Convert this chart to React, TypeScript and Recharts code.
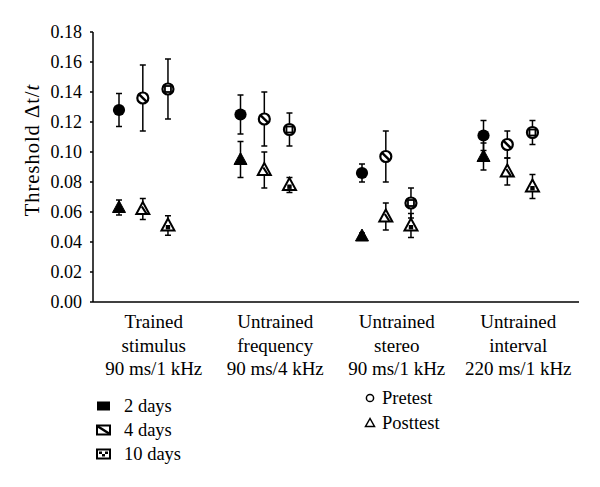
import React from "react";
import { ScatterChart, Scatter, XAxis, YAxis, ErrorBar, Customized } from "recharts";

// category labels (three lines each)
const groupLines = [
  ["Trained", "stimulus", "90 ms/1 kHz"],
  ["Untrained", "frequency", "90 ms/4 kHz"],
  ["Untrained", "stereo", "90 ms/1 kHz"],
  ["Untrained", "interval", "220 ms/1 kHz"],
];
const yTicks = [0, 0.02, 0.04, 0.06, 0.08, 0.1, 0.12, 0.14, 0.16, 0.18];

// pretest means / sd
const pre2 = [0.128, 0.125, 0.086, 0.111];
const pre2Err = [0.011, 0.013, 0.006, 0.01];
const pre4 = [0.136, 0.122, 0.097, 0.105];
const pre4Err = [0.022, 0.018, 0.017, 0.009];
const pre10 = [0.142, 0.115, 0.066, 0.113];
const pre10Err = [0.02, 0.011, 0.01, 0.008];

// posttest means / sd
const post2 = [0.063, 0.095, 0.044, 0.097];
const post2Err = [0.005, 0.012, 0.002, 0.009];
const post4 = [0.062, 0.088, 0.057, 0.087];
const post4Err = [0.007, 0.012, 0.009, 0.009];
const post10 = [0.051, 0.078, 0.051, 0.077];
const post10Err = [0.0065, 0.005, 0.008, 0.008];

// x offset of each training duration inside a group
const dodge = [0.214, 0.41, 0.617];

const FONT = "'Liberation Serif', 'Times New Roman', serif";
const txt = { fontFamily: FONT } as React.CSSProperties;

const toPoints = (vals: number[], errs: number[], d: number) =>
  vals.map((v, i) => ({ x: i + dodge[d], y: v, err: errs[i] }));

// ---- marker shapes ----
const R = 5.5;
function CircleMark(kind: "fill" | "hatch" | "check") {
  return (p: any) => {
    const { cx, cy } = p;
    if (kind === "fill") return <circle cx={cx} cy={cy} r={R + 0.6} fill="#000" />;
    return (
      <g>
        <circle cx={cx} cy={cy} r={R} fill="#fff" stroke="#000" strokeWidth={2.2} />
        {kind === "hatch" ? (
          <line x1={cx - 3.7} y1={cy - 3.7} x2={cx + 3.7} y2={cy + 3.7} stroke="#000" strokeWidth={2.4} />
        ) : (
          <rect x={cx - 3} y={cy - 3} width={6} height={6} fill="#fff" stroke="#000" strokeWidth={1.8} />
        )}
      </g>
    );
  };
}
function TriMark(kind: "fill" | "hatch" | "check") {
  return (p: any) => {
    const { cx, cy } = p;
    const pts = `${cx},${cy - 7} ${cx - 6.5},${cy + 5} ${cx + 6.5},${cy + 5}`;
    if (kind === "fill") return <polygon points={pts} fill="#000" stroke="#000" strokeWidth={1} />;
    return (
      <g>
        <polygon points={pts} fill="#fff" stroke="#000" strokeWidth={2} />
        {kind === "hatch" ? (
          <line x1={cx - 1} y1={cy - 2.5} x2={cx + 3.5} y2={cy + 4.5} stroke="#000" strokeWidth={2.2} />
        ) : (
          <rect x={cx - 2.2} y={cy - 0.5} width={4.4} height={4.4} fill="#000" />
        )}
      </g>
    );
  };
}

const CatTick = (props: any) => {
  const { x, y, payload } = props;
  const lines = groupLines[Math.floor(payload.value)] || [];
  return (
    <text x={x} y={y} textAnchor="middle" style={txt} fontSize={19} fill="#000">
      {lines.map((l, k) => (
        <tspan key={k} x={x} dy={k === 0 ? 26 : 23.5}>
          {l}
        </tspan>
      ))}
    </text>
  );
};

const NumTick = (props: any) => {
  const { x, y, payload } = props;
  return (
    <text x={x} y={y} dy={6} textAnchor="end" style={txt} fontSize={18} fill="#000">
      {Number(payload.value).toFixed(2)}
    </text>
  );
};

const YLabel = () => (
  <text
    x={32}
    y={150}
    transform="rotate(-90, 32, 150)"
    textAnchor="middle"
    dominantBaseline="central"
    style={{ ...txt, letterSpacing: 1 }}
    fontSize={20.5}
    fill="#000"
  >
    Threshold Δt/<tspan fontStyle="italic">t</tspan>
  </text>
);

const LegendBlock = () => {
  const rows = [406, 430, 454];
  const labels = ["2 days", "4 days", "10 days"];
  return (
    <g style={txt} fontSize={18.5} fill="#000">
      {rows.map((cy, i) => {
        const x = 97;
        const y = cy - 4.5;
        return (
          <g key={i}>
            {i === 0 && <rect x={x} y={y} width={13} height={9} fill="#000" />}
            {i === 1 && (
              <g>
                <rect x={x} y={y} width={13} height={9} fill="#fff" stroke="#000" strokeWidth={2} />
                <line x1={x + 1} y1={y + 1} x2={x + 12} y2={y + 8} stroke="#000" strokeWidth={2.5} />
              </g>
            )}
            {i === 2 && (
              <g>
                <rect x={x} y={y} width={13} height={9} fill="#fff" stroke="#000" strokeWidth={2} />
                <rect x={x + 2} y={y + 2} width={3} height={2.5} fill="#000" />
                <rect x={x + 8} y={y + 2} width={3} height={2.5} fill="#000" />
                <rect x={x + 5} y={y + 4.5} width={3} height={2.5} fill="#000" />
              </g>
            )}
            <text x={124} y={cy + 6}>{labels[i]}</text>
          </g>
        );
      })}
      <circle cx={370} cy={398} r={3.6} fill="none" stroke="#000" strokeWidth={1.5} />
      <text x={382} y={404}>Pretest</text>
      <polygon points="370,418.5 365.5,426.5 374.5,426.5" fill="none" stroke="#000" strokeWidth={1.5} />
      <text x={382} y={429}>Posttest</text>
    </g>
  );
};

export default function App() {
  const series = [
    { name: "Pretest 2 days", data: toPoints(pre2, pre2Err, 0), shape: CircleMark("fill") },
    { name: "Pretest 4 days", data: toPoints(pre4, pre4Err, 1), shape: CircleMark("hatch") },
    { name: "Pretest 10 days", data: toPoints(pre10, pre10Err, 2), shape: CircleMark("check") },
    { name: "Posttest 2 days", data: toPoints(post2, post2Err, 0), shape: TriMark("fill") },
    { name: "Posttest 4 days", data: toPoints(post4, post4Err, 1), shape: TriMark("hatch") },
    { name: "Posttest 10 days", data: toPoints(post10, post10Err, 2), shape: TriMark("check") },
  ];

  return (
    <div style={{ position: "absolute", left: 0, top: 0, background: "#fff" }}>
      <ScatterChart width={600} height={487} margin={{ top: 32, right: 21, bottom: 0, left: 0 }}>
        <XAxis
          type="number"
          dataKey="x"
          domain={[0, 4]}
          ticks={[0.5, 1.5, 2.5, 3.5]}
          tick={<CatTick />}
          tickLine={false}
          tickSize={0}
          tickMargin={0}
          height={185}
          axisLine={{ stroke: "#000", strokeWidth: 1.5 }}
          allowDataOverflow
        />
        <YAxis
          type="number"
          dataKey="y"
          domain={[0, 0.18]}
          ticks={yTicks}
          width={93}
          tickSize={3}
          tickMargin={8}
          axisLine={{ stroke: "#000", strokeWidth: 1.5 }}
          tickLine={{ stroke: "#000", strokeWidth: 1.5 }}
          tick={<NumTick />}
        />
        {series.map((s) => (
          <Scatter key={s.name} name={s.name} data={s.data} shape={s.shape} isAnimationActive={false}>
            <ErrorBar dataKey="err" direction="y" width={3} stroke="#000" strokeWidth={1.5} />
          </Scatter>
        ))}
        <Customized component={<YLabel />} />
        <Customized component={<LegendBlock />} />
      </ScatterChart>
    </div>
  );
}
